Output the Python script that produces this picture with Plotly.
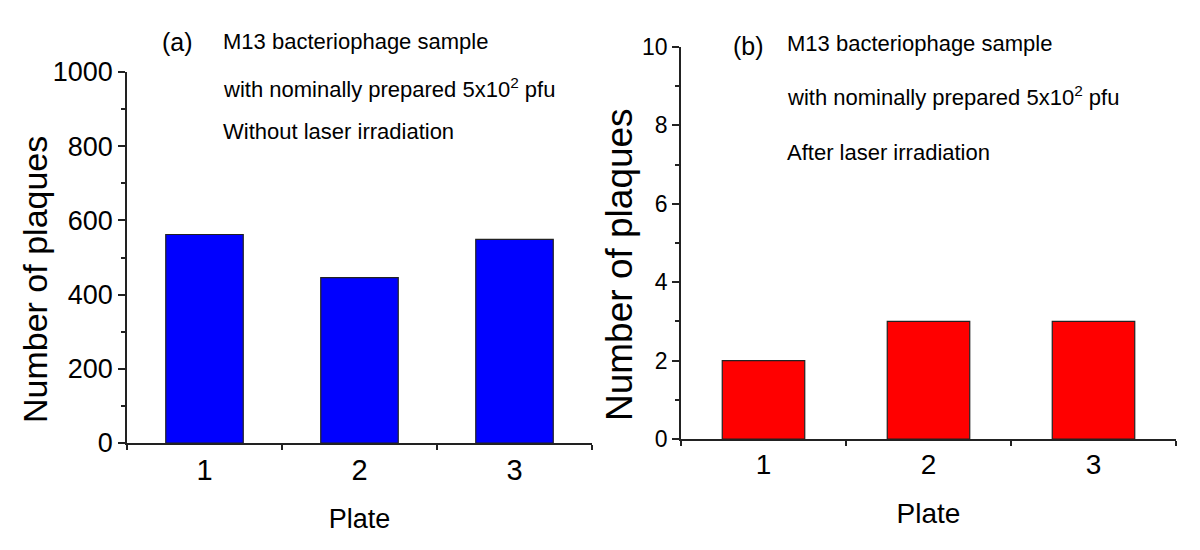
import plotly.graph_objects as go

plates = [1, 2, 3]
plate_labels = ["1", "2", "3"]
without_laser = [562, 446, 549]
after_laser = [2, 3, 3]

W, H = 1200, 550
OFF = 8  # page body margin
def px(x):
    return (x - OFF) / W
def py(y):
    return 1 - (y - OFF) / H

REG = "Liberation Sans, Arial"

fig = go.Figure()
fig.add_trace(go.Bar(x=plates, y=without_laser, width=0.5,
                     marker=dict(color="#0000FF", line=dict(color="#222222", width=1.2)),
                     xaxis="x", yaxis="y", showlegend=False))
fig.add_trace(go.Bar(x=plates, y=after_laser, width=0.5,
                     marker=dict(color="#FF0000", line=dict(color="#222222", width=1.2)),
                     xaxis="x2", yaxis="y2", showlegend=False))

common_x = dict(range=[0.5, 3.5], tickmode="array", tickvals=plates, ticktext=plate_labels,
                ticks="", showline=True, linecolor="#222222", linewidth=1.5,
                showgrid=False, zeroline=False, automargin=False,
                minor=dict(tickmode="array", tickvals=[0.5, 1.5, 2.5, 3.5], ticks="outside",
                           ticklen=5, tickcolor="#222222", tickwidth=1.5, showgrid=False))
common_y = dict(ticks="outside", ticklen=7, tickwidth=1.5, tickcolor="#222222",
                showline=True, linecolor="#222222", linewidth=1.5, showgrid=False,
                zeroline=False, automargin=False)

fig.update_layout(
    width=W, height=H, margin=dict(l=0, r=0, t=0, b=0),
    plot_bgcolor="white", paper_bgcolor="white", bargap=0.5,
    xaxis=dict(domain=[px(127), px(592)], anchor="y",
               tickfont=dict(family=REG, size=29, color="black"),
               title=dict(text="Plate", font=dict(family=REG, size=27, color="black"), standoff=25),
               **common_x),
    yaxis=dict(domain=[py(443), py(72)], anchor="x", range=[0, 1000], dtick=200,
               tickfont=dict(family=REG, size=27, color="black"),
               minor=dict(dtick=100, ticks="outside", ticklen=4, tickwidth=1.5, tickcolor="#222222"),
               **common_y),
    xaxis2=dict(domain=[px(681), px(1176)], anchor="y2",
                tickfont=dict(family=REG, size=28, color="black"),
                title=dict(text="Plate", font=dict(family=REG, size=28, color="black"), standoff=24),
                **common_x),
    yaxis2=dict(domain=[py(439), py(47)], anchor="x2", range=[0, 10], dtick=2,
                tickfont=dict(family=REG, size=23, color="black"),
                minor=dict(dtick=1, ticks="outside", ticklen=4, tickwidth=1.5, tickcolor="#222222"),
                **common_y),
    xaxis3=dict(overlaying="x", anchor="y", range=[0.5, 3.5], tickmode="array",
                tickvals=[1.5, 2.5, 3.5], ticks="inside", ticklen=4, tickwidth=1.5,
                tickcolor="#222222", showticklabels=False, showline=False, showgrid=False,
                zeroline=False, automargin=False),
    xaxis4=dict(overlaying="x2", anchor="y2", range=[0.5, 3.5], tickmode="array",
                tickvals=[1.5, 2.5, 3.5], ticks="inside", ticklen=4, tickwidth=1.5,
                tickcolor="#222222", showticklabels=False, showline=False, showgrid=False,
                zeroline=False, automargin=False),
)

ann = []
def label(text, x, y, size, anchor="left", angle=0):
    ann.append(dict(text=text, x=px(x), y=py(y), xref="paper", yref="paper",
                    xanchor=anchor, yanchor="middle", showarrow=False, textangle=angle,
                    font=dict(family=REG, size=size, color="black")))

label("Number of plaques", 35, 280, 34, anchor="center", angle=-90)
label("Number of plaques", 619, 265, 37, anchor="center", angle=-90)

label("(a)", 160, 42, 25)
label("M13 bacteriophage sample", 221, 41, 22)
label("with nominally prepared 5x10<sup>2</sup> pfu", 221, 88, 22)
label("Without laser irradiation", 221, 131, 22)

label("(b)", 731, 46, 25)
label("M13 bacteriophage sample", 785, 44, 22)
label("with nominally prepared 5x10<sup>2</sup> pfu", 785, 96, 22)
label("After laser irradiation", 785, 152, 22)

fig.update_layout(annotations=ann)
fig.write_html("out.html")
